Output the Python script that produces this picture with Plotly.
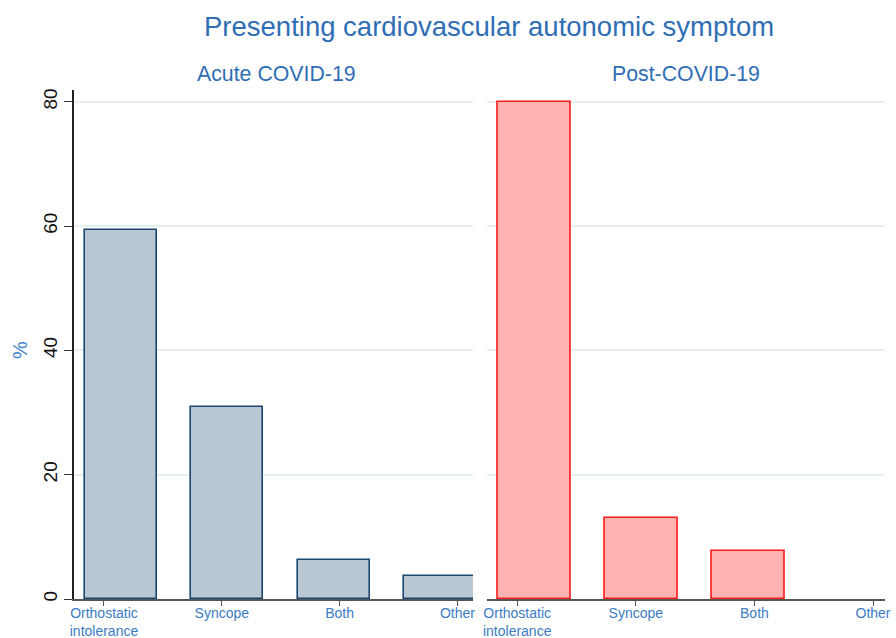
import plotly.graph_objects as go

categories = ["Orthostatic<br>intolerance", "Syncope", "Both", "Other"]
acute_pct = [59.3, 30.9, 6.2, 3.7]
post_pct = [80.0, 13.0, 7.7, 0.0]
panel_titles = ["Acute COVID-19", "Post-COVID-19"]
main_title = "Presenting cardiovascular autonomic symptom"
y_label = "%"
y_ticks = [0, 20, 40, 60, 80]

FONT = "Liberation Sans, Arial, sans-serif"
BLUE_TXT = "#2f6eb5"
TICK_TXT = "#3a7cc3"
GRID = "#e6eff1"

pos = list(range(len(categories)))
TICK_START, TICK_STEP = -0.16, 1.108
tick_pos = [TICK_START + TICK_STEP * i for i in pos]


def outline_widths(vals, w=1.6):
    return [w if v > 0 else 0 for v in vals]


fig = go.Figure()
fig.add_trace(go.Bar(
    x=pos, y=acute_pct, xaxis="x", yaxis="y", width=0.675,
    marker=dict(color="#b9c7d3",
                line=dict(color="#1a476f", width=outline_widths(acute_pct))),
    showlegend=False, hoverinfo="y"))
fig.add_trace(go.Bar(
    x=pos, y=post_pct, xaxis="x2", yaxis="y2", width=0.675,
    marker=dict(color="#ffb3b3",
                line=dict(color="#ff1a1a", width=outline_widths(post_pct))),
    showlegend=False, hoverinfo="y"))

xcommon = dict(
    tickmode="array", tickvals=tick_pos, ticktext=categories,
    showline=True, linecolor="#555555", linewidth=1.5,
    ticks="outside", ticklen=5, tickcolor="#555555", tickwidth=1.2,
    ticklabelstandoff=-5,
    tickfont=dict(family=FONT, size=14, color=TICK_TXT),
    showgrid=False, zeroline=False, fixedrange=True, automargin=False)

fig.update_layout(
    width=896, height=638,
    margin=dict(l=74, r=11, t=90, b=39, autoexpand=False),
    paper_bgcolor="white", plot_bgcolor="white",
    bargap=0,
    font=dict(family=FONT),
    xaxis=dict(domain=[0, 0.492], anchor="y", range=[-0.442, 3.311], **xcommon),
    xaxis2=dict(domain=[0.509, 1], anchor="y2", range=[-0.444, 3.276], **xcommon),
    yaxis=dict(domain=[0, 1], anchor="x", range=[0, 81.9], tickmode="array",
               tickvals=y_ticks, tickangle=-90, automargin=False,
               tickfont=dict(family=FONT, size=19, color="#111111"),
               showline=True, linecolor="#222222", linewidth=1.5,
               ticks="outside", ticklen=8, tickcolor="#333333", tickwidth=1.2,
               showgrid=True, gridcolor=GRID, gridwidth=1.5, zeroline=False),
    yaxis2=dict(domain=[0, 1], anchor="x2", range=[0, 81.9], tickmode="array",
                tickvals=y_ticks, showticklabels=False, showline=False, ticks="",
                automargin=False,
                showgrid=True, gridcolor=GRID, gridwidth=1.5, zeroline=False),
    annotations=[
        dict(text=main_title, xref="paper", yref="paper", x=0.5117, y=1.1257,
             xanchor="center", yanchor="middle", showarrow=False,
             font=dict(family=FONT, size=27.5, color=BLUE_TXT)),
        dict(text=panel_titles[0], xref="paper", yref="paper", x=0.2503, y=1.0314,
             xanchor="center", yanchor="middle", showarrow=False,
             font=dict(family=FONT, size=21.3, color=BLUE_TXT)),
        dict(text=panel_titles[1], xref="paper", yref="paper", x=0.7546, y=1.0314,
             xanchor="center", yanchor="middle", showarrow=False,
             font=dict(family=FONT, size=21.3, color=BLUE_TXT)),
        dict(text=y_label, xref="paper", yref="paper", x=-0.0666, y=0.489,
             xanchor="center", yanchor="middle", showarrow=False, textangle=-90,
             font=dict(family=FONT, size=20, color="#3f82cc")),
    ],
)

fig.write_html("out.html",
               config={"displayModeBar": False},
               post_script="document.body.style.margin='0';"
                           "document.body.style.overflow='hidden';")
